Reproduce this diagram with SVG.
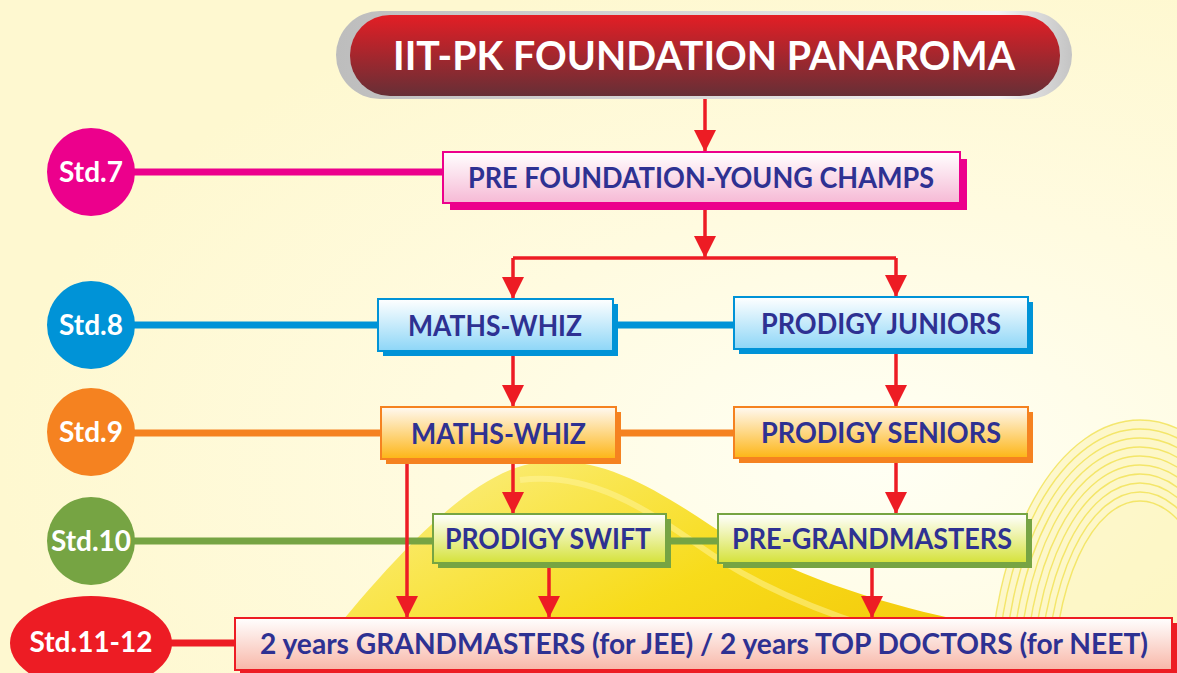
<svg xmlns="http://www.w3.org/2000/svg" width="1177" height="673" viewBox="0 0 1177 673">
<defs>
  <radialGradient id="bg" cx="0.75" cy="0.68" r="0.75">
    <stop offset="0" stop-color="#FFFFF4"/>
    <stop offset="0.5" stop-color="#FFFBE0"/>
    <stop offset="1" stop-color="#FEF8D0"/>
  </radialGradient>
  <linearGradient id="hump" x1="0" y1="0" x2="1" y2="0.6">
    <stop offset="0" stop-color="#FBF19A"/>
    <stop offset="0.35" stop-color="#F9E54A"/>
    <stop offset="0.65" stop-color="#F7DA10"/>
    <stop offset="1" stop-color="#F3C800"/>
  </linearGradient>
  <linearGradient id="titleRed" x1="0" y1="0" x2="0" y2="1">
    <stop offset="0" stop-color="#E31E25"/>
    <stop offset="1" stop-color="#662F36"/>
  </linearGradient>
  <linearGradient id="silver" x1="0" y1="0" x2="1" y2="0">
    <stop offset="0" stop-color="#BDBDBD"/>
    <stop offset="0.5" stop-color="#D9D9D9"/>
    <stop offset="0.9" stop-color="#F4F4F4"/>
    <stop offset="1" stop-color="#C4C4C4"/>
  </linearGradient>
  <linearGradient id="gPink" x1="0" y1="0" x2="0" y2="1">
    <stop offset="0" stop-color="#FFFFFF"/>
    <stop offset="1" stop-color="#F6B9D5"/>
  </linearGradient>
  <linearGradient id="gBlue" x1="0" y1="0" x2="0" y2="1">
    <stop offset="0" stop-color="#FFFFFF"/>
    <stop offset="1" stop-color="#8DD6F7"/>
  </linearGradient>
  <linearGradient id="gOrange" x1="0" y1="0" x2="0" y2="1">
    <stop offset="0" stop-color="#FFF9F2"/>
    <stop offset="1" stop-color="#FDB515"/>
  </linearGradient>
  <linearGradient id="gGreen" x1="0" y1="0" x2="0" y2="1">
    <stop offset="0" stop-color="#FFFFFF"/>
    <stop offset="1" stop-color="#D5E23A"/>
  </linearGradient>
  <linearGradient id="gRed" x1="0" y1="0" x2="0" y2="1">
    <stop offset="0" stop-color="#FFFFFF"/>
    <stop offset="1" stop-color="#F8B7A8"/>
  </linearGradient>
  <marker id="ah" viewBox="0 0 22 22" markerWidth="22" markerHeight="22" markerUnits="userSpaceOnUse" refX="22" refY="11" orient="auto">
    <path d="M0,0 L22,11 L0,22 Z" fill="#ED1C24"/>
  </marker>
  <style>
    .lbl{font-family:Lato,"Open Sans","Liberation Sans",sans-serif;font-weight:bold;fill:#2E3192;font-size:29px;}
    .std{font-family:Lato,"Open Sans","Liberation Sans",sans-serif;font-weight:bold;fill:#FFFFFF;font-size:28px;text-anchor:middle;}
    .title{font-family:Lato,"Open Sans","Liberation Sans",sans-serif;font-weight:bold;fill:#FFFFFF;font-size:41px;}
    .arrow{stroke:#ED1C24;stroke-width:3.5;fill:none;}
    .arrowh{stroke:#ED1C24;stroke-width:3.5;fill:none;marker-end:url(#ah);}
    .sl{stroke-width:7;fill:none;}
    .ring{fill:none;stroke:#F0DE40;stroke-width:1.4;opacity:0.7;}
  </style>
</defs>

<!-- background -->
<rect x="0" y="0" width="1177" height="673" fill="url(#bg)"/>
<g id="decor">
  <path d="M300,673 C390,560 470,470 540,462 C600,456 650,485 710,525 C790,578 900,610 1000,628 L1010,673 Z" fill="url(#hump)" opacity="0.95"/>
  <path d="M520,480 C600,470 660,520 720,560 C800,610 900,640 1000,660" fill="none" stroke="#FFF6A0" stroke-width="6" opacity="0.5"/>
  <ellipse cx="1140" cy="690" rx="150" ry="270" fill="#F7EC80" opacity="0.3"/>
  <ellipse class="ring" cx="1140" cy="690" rx="150" ry="270"/>
  <ellipse class="ring" cx="1140" cy="690" rx="143" ry="261"/>
  <ellipse class="ring" cx="1140" cy="690" rx="136" ry="252"/>
  <ellipse class="ring" cx="1140" cy="690" rx="129" ry="243"/>
  <ellipse class="ring" cx="1140" cy="690" rx="122" ry="234"/>
  <ellipse class="ring" cx="1140" cy="690" rx="115" ry="225"/>
  <ellipse class="ring" cx="1140" cy="690" rx="108" ry="216"/>
  <ellipse class="ring" cx="1140" cy="690" rx="101" ry="207"/>
  <ellipse class="ring" cx="1140" cy="690" rx="94" ry="198"/>
  <ellipse class="ring" cx="1140" cy="690" rx="87" ry="189"/>
</g>

<!-- connectors -->
<g id="connectors">
  <path class="sl" stroke="#EC008C" d="M134,172 H443"/>
  <path class="sl" stroke="#0093D7" d="M134,325 H734"/>
  <path class="sl" stroke="#F58220" d="M134,433 H734"/>
  <path class="sl" stroke="#76A443" d="M134,541 H718"/>
  <path class="sl" stroke="#ED1C24" d="M168,643 H235"/>

  <path class="arrowh" d="M705,97 V152"/>
  <path class="arrowh" d="M705,203 V258"/>
  <path class="arrow" d="M513,258 H896"/>
  <path class="arrowh" d="M513,258 V299"/>
  <path class="arrowh" d="M896,258 V297"/>
  <path class="arrowh" d="M513,351 V407"/>
  <path class="arrowh" d="M896,349 V407"/>
  <path class="arrowh" d="M513,459 V514"/>
  <path class="arrowh" d="M896,458 V514"/>
  <path class="arrowh" d="M407,459 V618"/>
  <path class="arrowh" d="M549,563 V618"/>
  <path class="arrowh" d="M872,563 V618"/>
</g>

<!-- title -->
<g id="title">
  <rect x="336" y="11" width="736" height="88" rx="44" fill="url(#silver)"/>
  <rect x="350" y="15" width="710" height="81" rx="40" fill="url(#titleRed)"/>
  <text class="title" x="393" y="70" textLength="622" lengthAdjust="spacingAndGlyphs">IIT-PK FOUNDATION PANAROMA</text>
</g>

<!-- std markers -->
<g id="std7">
  <circle cx="91" cy="172" r="44" fill="#EC008C"/>
  <text class="std" x="91" y="182">Std.7</text>
</g>
<g id="std8">
  <circle cx="91" cy="325" r="44" fill="#0093D7"/>
  <text class="std" x="91" y="335">Std.8</text>
</g>
<g id="std9">
  <circle cx="91" cy="432" r="44" fill="#F58220"/>
  <text class="std" x="91" y="442">Std.9</text>
</g>
<g id="std10">
  <circle cx="91" cy="541" r="44" fill="#76A443"/>
  <text class="std" x="91" y="551">Std.10</text>
</g>
<g id="std1112">
  <ellipse cx="91" cy="643" rx="81" ry="47" fill="#ED1C24"/>
  <text class="std" x="91" y="652">Std.11-12</text>
</g>

<!-- boxes -->
<g id="preFoundation">
  <rect x="450" y="159" width="517" height="51" fill="#EC008C"/>
  <rect x="443" y="152" width="517" height="51" fill="url(#gPink)" stroke="#EC008C" stroke-width="2"/>
  <text class="lbl" x="468" y="188" textLength="466" lengthAdjust="spacingAndGlyphs">PRE FOUNDATION-YOUNG CHAMPS</text>
</g>
<g id="mathsWhiz8">
  <rect x="383" y="304" width="235" height="52" fill="#0093D7"/>
  <rect x="378" y="299" width="235" height="52" fill="url(#gBlue)" stroke="#0093D7" stroke-width="2"/>
  <text class="lbl" x="408" y="336" textLength="174" lengthAdjust="spacingAndGlyphs">MATHS-WHIZ</text>
</g>
<g id="prodigyJuniors">
  <rect x="739" y="302" width="294" height="52" fill="#0093D7"/>
  <rect x="734" y="297" width="294" height="52" fill="url(#gBlue)" stroke="#0093D7" stroke-width="2"/>
  <text class="lbl" x="761" y="334" textLength="240" lengthAdjust="spacingAndGlyphs">PRODIGY JUNIORS</text>
</g>
<g id="mathsWhiz9">
  <rect x="386" y="412" width="235" height="52" fill="#F58220"/>
  <rect x="381" y="407" width="235" height="52" fill="url(#gOrange)" stroke="#F58220" stroke-width="2"/>
  <text class="lbl" x="411" y="444" textLength="175" lengthAdjust="spacingAndGlyphs">MATHS-WHIZ</text>
</g>
<g id="prodigySeniors">
  <rect x="739" y="412" width="294" height="51" fill="#F58220"/>
  <rect x="734" y="407" width="294" height="51" fill="url(#gOrange)" stroke="#F58220" stroke-width="2"/>
  <text class="lbl" x="761" y="443" textLength="240" lengthAdjust="spacingAndGlyphs">PRODIGY SENIORS</text>
</g>
<g id="prodigySwift">
  <rect x="438" y="519" width="233" height="49" fill="#76A443"/>
  <rect x="433" y="514" width="233" height="49" fill="url(#gGreen)" stroke="#76A443" stroke-width="2"/>
  <text class="lbl" x="445" y="549" textLength="206" lengthAdjust="spacingAndGlyphs">PRODIGY SWIFT</text>
</g>
<g id="preGrandmasters">
  <rect x="723" y="519" width="309" height="49" fill="#76A443"/>
  <rect x="718" y="514" width="309" height="49" fill="url(#gGreen)" stroke="#76A443" stroke-width="2"/>
  <text class="lbl" x="732" y="549" textLength="280" lengthAdjust="spacingAndGlyphs">PRE-GRANDMASTERS</text>
</g>
<g id="grandmasters">
  <rect x="240" y="623" width="937" height="52" fill="#ED1C24"/>
  <rect x="235" y="618" width="937" height="52" fill="url(#gRed)" stroke="#ED1C24" stroke-width="2"/>
  <text class="lbl" x="260" y="654" textLength="888" lengthAdjust="spacingAndGlyphs">2 years GRANDMASTERS (for JEE) / 2 years TOP DOCTORS (for NEET)</text>
</g>
</svg>
